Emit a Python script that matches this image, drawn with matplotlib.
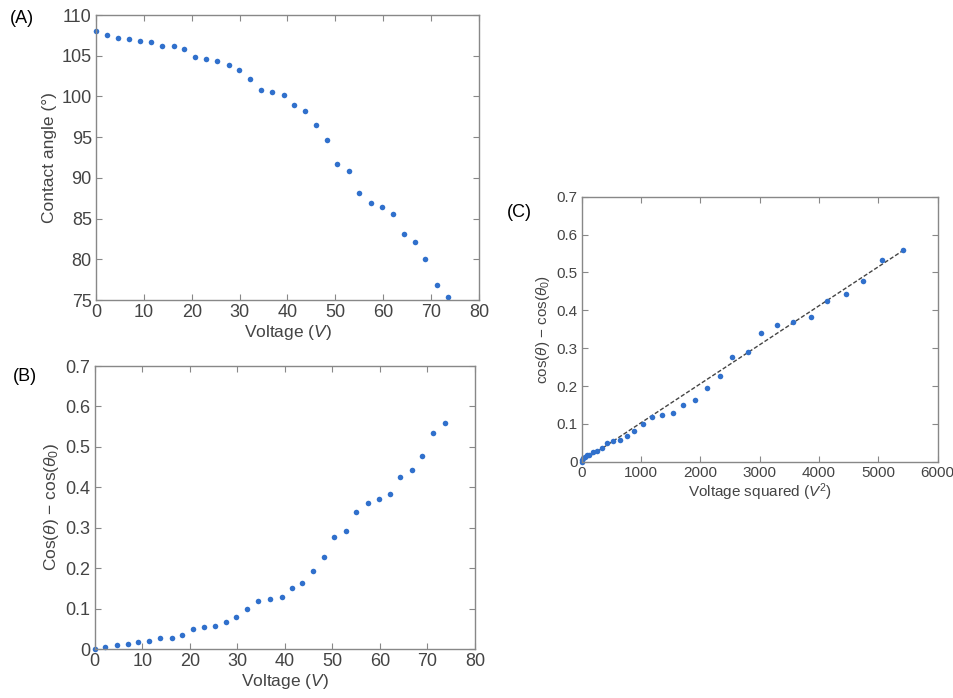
import numpy as np
import matplotlib
matplotlib.use("Agg")
import matplotlib.pyplot as plt

plt.rcParams['font.family'] = ['Liberation Sans', 'DejaVu Sans']
plt.rcParams['mathtext.fontset'] = 'custom'
plt.rcParams['mathtext.rm'] = 'Liberation Sans'
plt.rcParams['mathtext.it'] = 'Liberation Sans:italic'

# data
voltage = [0, 2.2, 4.6, 7.0, 9.2, 11.4, 13.8, 16.2, 18.3, 20.7, 22.9, 25.3,
           27.7, 29.8, 32.1, 34.4, 36.8, 39.3, 41.4, 43.7, 45.9, 48.2, 50.4,
           52.9, 55.0, 57.4, 59.7, 62.1, 64.3, 66.7, 68.8, 71.2, 73.6]
angle = [108.0, 107.5, 107.2, 107.1, 106.8, 106.7, 106.2, 106.2, 105.8, 104.9,
         104.6, 104.4, 103.8, 103.3, 102.1, 100.8, 100.5, 100.2, 99.0, 98.2,
         96.5, 94.7, 91.7, 90.8, 88.1, 86.9, 86.4, 85.6, 83.1, 82.1, 80.0,
         76.8, 75.4]
cos_diff = [0.0, 0.004, 0.011, 0.012, 0.018, 0.019, 0.026, 0.028, 0.035, 0.050,
            0.055, 0.058, 0.068, 0.080, 0.100, 0.118, 0.124, 0.129, 0.151,
            0.163, 0.194, 0.227, 0.276, 0.291, 0.339, 0.362, 0.370, 0.383,
            0.425, 0.443, 0.478, 0.534, 0.558]
fit_slope = 1.03e-4
fit_intercept = 0.0

v_sq = np.array(voltage) ** 2

dot_color = '#3070cc'
txt_color = '#444444'
frame_color = '#888888'


def style_axes(ax, size):
    for s in ax.spines.values():
        s.set_color(frame_color)
        s.set_linewidth(1.0)
    ax.tick_params(direction='in', top=True, right=True, length=4,
                   color=frame_color, labelcolor=txt_color, labelsize=size,
                   width=0.8, pad=3)


fig = plt.figure(figsize=(9.54, 6.98), dpi=100)

# (A)
axA = fig.add_axes([0.1006, 0.5702, 0.4015, 0.4083])
axA.plot(voltage, angle, 'o', color=dot_color, ms=4, mec='none', clip_on=False)
axA.set_xlim(0, 80)
axA.set_ylim(75, 110)
axA.set_xticks(range(0, 81, 10))
axA.set_yticks(range(75, 111, 5))
axA.set_xlabel('Voltage ($V$)', color=txt_color, fontsize=12.5, labelpad=1)
axA.set_ylabel('Contact angle (°)', color=txt_color, fontsize=12.5, labelpad=3)
style_axes(axA, 13)

# (B)
axB = fig.add_axes([0.0993, 0.0702, 0.3986, 0.4054])
axB.plot(voltage, cos_diff, 'o', color=dot_color, ms=4, mec='none', clip_on=False)
axB.set_xlim(0, 80)
axB.set_ylim(0, 0.7)
axB.set_xticks(range(0, 81, 10))
axB.set_yticks(np.arange(0, 0.71, 0.1))
axB.set_yticklabels(['0', '0.1', '0.2', '0.3', '0.4', '0.5', '0.6', '0.7'])
axB.set_xlabel('Voltage ($V$)', color=txt_color, fontsize=12.5, labelpad=1)
axB.set_ylabel(r'Cos($\theta$) $-$ cos($\theta_0$)', color=txt_color,
               fontsize=12.5, labelpad=3)
style_axes(axB, 13)

# (C)
axC = fig.add_axes([0.6098, 0.3385, 0.3731, 0.3797])
xs = np.array([0, v_sq.max()])
axC.plot(xs, fit_intercept + fit_slope * xs, '--', color='#444444', lw=1.0,
         dashes=(3, 1.5))
axC.plot(v_sq, cos_diff, 'o', color=dot_color, ms=4, mec='none', clip_on=False)
axC.set_xlim(0, 6000)
axC.set_ylim(0, 0.7)
axC.set_xticks(range(0, 6001, 1000))
axC.set_yticks(np.arange(0, 0.71, 0.1))
axC.set_yticklabels(['0', '0.1', '0.2', '0.3', '0.4', '0.5', '0.6', '0.7'])
axC.set_xlabel('Voltage squared ($V^2$)', color=txt_color, fontsize=11,
               labelpad=1)
axC.set_ylabel(r'cos($\theta$) $-$ cos($\theta_0$)', color=txt_color,
               fontsize=11, labelpad=3)
style_axes(axC, 11)

# panel letters
fig.text(0.010, 0.974, '(A)', fontsize=13, va='center', ha='left', color='black')
fig.text(0.014, 0.460, '(B)', fontsize=13, va='center', ha='left', color='black')
fig.text(0.531, 0.696, '(C)', fontsize=13, va='center', ha='left', color='black')

fig.savefig('out.png', dpi=100)
